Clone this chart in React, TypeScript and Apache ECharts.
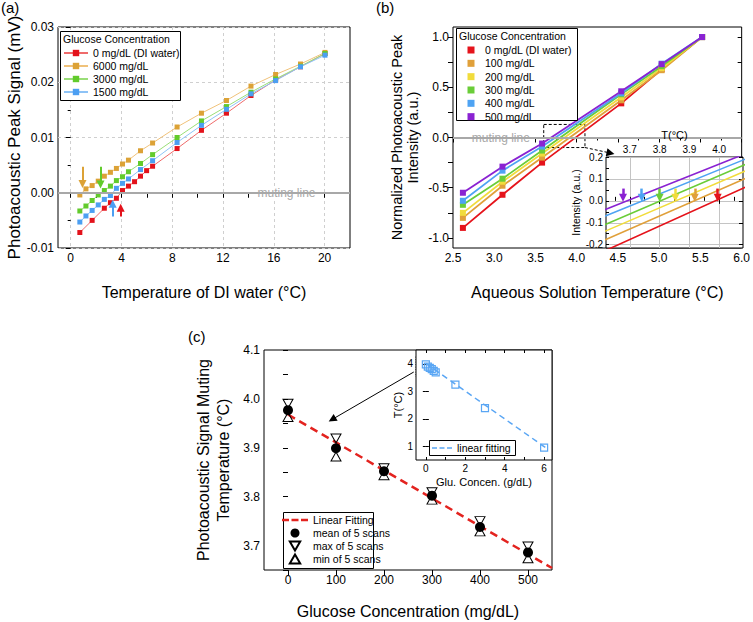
import React, { useEffect, useRef } from 'react';
import * as echarts from 'echarts';

const FONT = '"Liberation Sans", Arial, Helvetica, sans-serif';

// ---------------- Panel (a) ----------------
const aSeriesKeys = ['a0', 'a1', 'a2', 'a3'];
const aSeriesNames = ['0 mg/dL (DI water)', '6000 mg/dL', '3000 mg/dL', '1500 mg/dL'];
const aTempRed = [0.72, 1.69, 2.65, 3.13, 3.6, 4.08, 4.55, 5.03, 5.5, 5.98, 6.45, 8.38, 10.3, 12.27, 14.2, 16.14, 18.1, 20.03];
const aSignalRed = [-0.0072, -0.005, -0.0028, -0.0018, -0.001, 0.0004, 0.0012, 0.002, 0.003, 0.004, 0.0048, 0.008, 0.0113, 0.0144, 0.0176, 0.0204, 0.0228, 0.0252];
const aTempOthers = [0.72, 1.2, 1.69, 2.17, 2.65, 3.13, 3.6, 4.08, 4.55, 5.5, 6.45, 8.38, 10.3, 12.27, 14.2, 16.14, 18.1, 20.03];
const aSignal6000 = [-0.0004, 0.0007, 0.0013, 0.0021, 0.003, 0.0037, 0.0044, 0.0052, 0.0059, 0.0076, 0.009, 0.0119, 0.0144, 0.0167, 0.0193, 0.0214, 0.0233, 0.0254];
const aSignal3000 = [-0.0033, -0.0024, -0.0014, -0.0004, 0.0004, 0.0012, 0.0022, 0.0029, 0.0038, 0.0053, 0.0069, 0.01, 0.013, 0.0156, 0.0182, 0.0206, 0.0229, 0.0252];
const aSignal1500 = [-0.0053, -0.0042, -0.0032, -0.0022, -0.0012, -0.0005, 0.0008, 0.0017, 0.0025, 0.0042, 0.0058, 0.0091, 0.0122, 0.0151, 0.0179, 0.0203, 0.0228, 0.0249];
const aXLabels = [0, 4, 8, 12, 16, 20];
const aXTicks = [0, 2, 4, 6, 8, 10, 12, 14, 16, 18, 20];
const aArrowTemp = [3.94, 0.93, 2.35, 3.31];
const aArrowFrom = [-0.0043, 0.0047, 0.0047, -0.0043];
const aArrowTo = [-0.0027, 0.0016, 0.0015, -0.002];

// ---------------- Panel (b) ----------------
const bSeriesKeys = ['b0', 'b1', 'b2', 'b3', 'b4', 'b5'];
const bSeriesNames = ['0 mg/dL (DI water)', '100 mg/dL', '200 mg/dL', '300 mg/dL', '400 mg/dL', '500 mg/dL'];
const bTemp = [2.62, 3.1, 3.58, 4.54, 5.03, 5.52];
const bInt0 = [-0.9, -0.57, -0.25, 0.34, 0.68, 1.0];
const bInt100 = [-0.8, -0.48, -0.2, 0.37, 0.67, 1.0];
const bInt200 = [-0.75, -0.44, -0.16, 0.4, 0.69, 1.0];
const bInt300 = [-0.67, -0.41, -0.13, 0.43, 0.71, 1.0];
const bInt400 = [-0.63, -0.33, -0.09, 0.44, 0.735, 1.0];
const bInt500 = [-0.55, -0.29, -0.06, 0.46, 0.73, 1.0];
const bYLabels = [-1, -0.5, 0, 0.5, 1];
const bYTicks = [-1, -0.75, -0.5, -0.25, 0, 0.25, 0.5, 0.75, 1];
const bInsetXLabels = [3.7, 3.8, 3.9, 4.0];
const bInsetXTicks = [3.65, 3.7, 3.75, 3.8, 3.85, 3.9, 3.95, 4.0, 4.05];
const bInsetYLabels = [-0.2, -0.1, 0, 0.1, 0.2];
const bInsetYTicks = [-0.2, -0.15, -0.1, -0.05, 0, 0.05, 0.1, 0.15, 0.2];
const bMutingTemp = [3.995, 3.918, 3.853, 3.8, 3.74, 3.677];
const bArrowFrom = 0.056;
const bArrowTo = 0.014;
const bZoomBox = [[3.6, 0.13], [4.1, -0.1]];
const bPointer = [[4.1, -0.1], [4.41, -0.155]];

// ---------------- Panel (c) ----------------
const cConc = [0, 100, 200, 300, 400, 500];
const cMean = [3.977, 3.899, 3.852, 3.802, 3.738, 3.686];
const cMax = [3.99, 3.919, 3.858, 3.809, 3.75, 3.698];
const cMin = [3.963, 3.882, 3.844, 3.794, 3.729, 3.674];
const cFitConc = [0, 550];
const cFitTemp = [3.968, 3.654];
const cYLabels = [3.7, 3.8, 3.9, 4.0, 4.1];
const cYTicks = [3.65, 3.7, 3.75, 3.8, 3.85, 3.9, 3.95, 4.0, 4.05, 4.1];
const cPointer = [[262, 4.055], [92, 3.958]];
const ciConc = [0, 0.1, 0.2, 0.3, 0.4, 0.5, 1.5, 3.0, 6.0];
const ciTemp = [3.977, 3.899, 3.852, 3.802, 3.738, 3.686, 3.24, 2.39, 0.95];
const ciFitConc = [0, 6.15];
const ciFitTemp = [4.01, 0.91];
const ciXLabels = [0, 2, 4, 6];
const ciXTicks = [0, 1, 2, 3, 4, 5, 6];
const ciYLabels = [1, 2, 3, 4];
const ciZoomBox = [[-0.5, 4.26], [0.65, 3.52]];

const LABELS: Record<string, string> = {
  'c-fit': 'Linear Fitting',
  'c-mean': 'mean of 5 scans',
  'c-max': 'max of 5 scans',
  'c-min': 'min of 5 scans',
  'ci-fit': 'linear fitting',
};
aSeriesKeys.forEach((k, i) => (LABELS[k] = aSeriesNames[i]));
bSeriesKeys.forEach((k, i) => (LABELS[k] = bSeriesNames[i]));

const A_MARKER = ['#e3121b', '#dca236', '#62cb2c', '#4c9ff2'];
const A_LINE = ['#ef6b6b', '#f0c27a', '#9ade78', '#8ec3f6'];
const B_COLORS = ['#e5131b', '#e0a03a', '#f1dc3c', '#6acd38', '#4ea3f3', '#8a22d2'];
const MUTE = '#a8a8a8';
const CI_BLUE = '#5aa6f4';
const FIT_RED = '#e3231f';
const DOWN_TRI = 'path://M0,0L10,0L5,8.66Z';
const UP_TRI = 'path://M5,0L10,8.66L0,8.66Z';
const SQUARE_ICON = 'path://M0,0M18,7M5.5,0L12.5,0L12.5,7L5.5,7Z';
const DASH_ICON_C = 'path://M0,0h7v2.5h-7z M9.5,0h7v2.5h-7z M19,0h7v2.5h-7z';
const DASH_ICON_CI = 'path://M0,0h5v1.5h-5z M7.5,0h5v1.5h-5z M15,0h5v1.5h-5z';

const zip = (xs: number[], ys: number[]) => xs.map((x, i) => [x, ys[i]]);

function axis(extra: any) {
  const base: any = {
    type: 'value',
    axisLine: { show: false },
    splitLine: { show: false },
    axisTick: { show: true, length: 5, inside: false, lineStyle: { color: '#000', width: 1 } },
    axisLabel: { show: true, color: '#000', fontSize: 12, fontFamily: FONT, margin: 4 },
    nameTextStyle: { color: '#000', fontSize: 16, fontFamily: FONT },
  };
  Object.keys(extra).forEach((k) => {
    const v = extra[k];
    if (base[k] && typeof base[k] === 'object' && v && typeof v === 'object' && !Array.isArray(v)) {
      base[k] = { ...base[k], ...v };
    } else base[k] = v;
  });
  return base;
}

const fx1 = (v: number) => v.toFixed(1);
const fx2 = (v: number) => v.toFixed(2);

function arrow(color: string, x: number, y1: number, y2: number, width = 2, size = 8) {
  return {
    silent: true,
    symbol: ['none', 'triangle'],
    symbolSize: size,
    label: { show: false },
    emphasis: { disabled: true },
    lineStyle: { color, width, type: 'solid', opacity: 1 },
    data: [[{ coord: [x, y1] }, { coord: [x, y2] }]],
  };
}

function buildOption(): any {
  const frame = { show: true, borderColor: '#000', borderWidth: 1, backgroundColor: 'rgba(0,0,0,0)' };
  const grid = [
    { left: 58, top: 27, width: 292, height: 221, ...frame },
    { left: 453, top: 27, width: 290, height: 221, ...frame },
    { left: 606, top: 157, width: 137, height: 91, ...frame, backgroundColor: '#fff', z: 10 },
    { left: 264, top: 350, width: 288, height: 220, ...frame },
    { left: 416, top: 350, width: 136, height: 110, ...frame, backgroundColor: '#fff', z: 10 },
  ];

  const xAxis = [
    axis({
      gridIndex: 0, min: -1, max: 22,
      axisLabel: { customValues: aXLabels },
      axisTick: { customValues: aXTicks },
      name: 'Temperature of DI water (°C)', nameLocation: 'middle', nameGap: 36,
    }),
    axis({
      gridIndex: 0, position: 'top', min: -1, max: 22,
      axisLabel: { show: false },
      axisTick: { show: false, customValues: aXLabels },
      splitLine: { show: true, lineStyle: { color: '#cfcfcf', type: [3, 3], width: 1 } },
    }),
    axis({
      gridIndex: 1, min: 2.5, max: 6, interval: 0.5,
      axisLabel: { formatter: fx1 },
      minorTick: { show: true, splitNumber: 2, length: 3, lineStyle: { color: '#000' } },
      name: 'Aqueous Solution Temperature (°C)', nameLocation: 'middle', nameGap: 36,
    }),
    axis({
      gridIndex: 1, position: 'top', min: 2.5, max: 6, interval: 0.5,
      axisLabel: { show: false },
      axisTick: { inside: true, length: 4 },
      minorTick: { show: true, splitNumber: 2, length: 2, lineStyle: { color: '#000' } },
    }),
    axis({
      gridIndex: 2, position: 'top', min: 3.62, max: 4.08, z: 11,
      axisLabel: { customValues: bInsetXLabels, formatter: fx1, fontSize: 10, margin: 3 },
      axisTick: { customValues: bInsetXLabels, inside: true, length: 3 },
      splitLine: { show: true, lineStyle: { color: '#c4c4c4', width: 1, type: 'solid' } },
      name: 'T(°C)', nameLocation: 'middle', nameGap: 17,
      nameTextStyle: { fontSize: 11 },
    }),
    axis({
      gridIndex: 2, position: 'bottom', min: 3.62, max: 4.08, z: 11,
      axisLabel: { show: false },
      axisTick: { customValues: bInsetXTicks, inside: true, length: 4 },
    }),
    axis({
      gridIndex: 3, min: -50, max: 550,
      axisLabel: { customValues: cConc },
      axisTick: { customValues: cConc },
      name: 'Glucose Concentration (mg/dL)', nameLocation: 'middle', nameGap: 33,
    }),
    axis({
      gridIndex: 4, min: -0.5, max: 6.4, z: 11,
      axisLabel: { customValues: ciXLabels, fontSize: 10, margin: 3 },
      axisTick: { customValues: ciXTicks, inside: true, length: 3 },
      name: 'Glu. Concen. (g/dL)', nameLocation: 'middle', nameGap: 16,
      nameTextStyle: { fontSize: 11 },
    }),
    axis({
      gridIndex: 4, position: 'top', min: -0.5, max: 6.4, z: 11,
      axisLabel: { show: false },
      axisTick: { customValues: ciXTicks, inside: true, length: 3 },
    }),
  ];

  const yAxis = [
    axis({
      gridIndex: 0, min: -0.01, max: 0.03, interval: 0.01,
      axisLabel: { formatter: fx2 },
      minorTick: { show: true, splitNumber: 2, length: 3, lineStyle: { color: '#000' } },
      splitLine: { show: true, lineStyle: { color: '#cfcfcf', type: [3, 3], width: 1 } },
      name: 'Photoacoustic Peak Signal (mV)', nameLocation: 'middle', nameGap: 33,
      nameTextStyle: { fontSize: 17 },
    }),
    axis({
      gridIndex: 1, min: -1.1, max: 1.1,
      axisLabel: { customValues: bYLabels, formatter: fx1 },
      axisTick: { customValues: bYTicks },
      name: 'Normalized Photoacoustic Peak\nIntensity (a.u.)', nameLocation: 'middle', nameGap: 32,
      nameTextStyle: { fontSize: 14.5, lineHeight: 16 },
    }),
    axis({
      gridIndex: 1, position: 'right', min: -1.1, max: 1.1,
      axisLabel: { show: false },
      axisTick: { customValues: bYTicks, inside: true, length: 4 },
    }),
    axis({
      gridIndex: 2, min: -0.215, max: 0.2, z: 11,
      axisLabel: { customValues: bInsetYLabels, formatter: fx1, fontSize: 10, margin: 3 },
      axisTick: { customValues: bInsetYTicks, inside: true, length: 3 },
      name: 'Intensity (a.u.)', nameLocation: 'middle', nameGap: 23,
      nameTextStyle: { fontSize: 10.5 },
    }),
    axis({
      gridIndex: 2, position: 'right', min: -0.215, max: 0.2, z: 11,
      axisLabel: { show: false },
      axisTick: { customValues: bInsetYLabels, inside: true, length: 4 },
      splitLine: { show: true, lineStyle: { color: '#c4c4c4', width: 1, type: 'solid' } },
    }),
    axis({
      gridIndex: 3, min: 3.65, max: 4.1,
      axisLabel: { customValues: cYLabels, formatter: fx1 },
      axisTick: { customValues: cYTicks },
      name: 'Photoacoustic Signal Muting\nTemperature (°C)', nameLocation: 'middle', nameGap: 31,
      nameTextStyle: { fontSize: 16, lineHeight: 20 },
    }),
    axis({
      gridIndex: 4, min: 0.5, max: 4.5, z: 11,
      axisLabel: { customValues: ciYLabels, fontSize: 10, margin: 3 },
      axisTick: { customValues: ciYLabels, inside: true, length: 3 },
      name: 'T(°C)', nameLocation: 'middle', nameGap: 11,
      nameTextStyle: { fontSize: 11 },
    }),
    axis({
      gridIndex: 4, position: 'right', min: 0.5, max: 4.5, z: 11,
      axisLabel: { show: false },
      axisTick: { customValues: ciYLabels, inside: true, length: 3 },
    }),
  ];

  const aData = [zip(aTempRed, aSignalRed), zip(aTempOthers, aSignal6000), zip(aTempOthers, aSignal3000), zip(aTempOthers, aSignal1500)];
  const bData = [bInt0, bInt100, bInt200, bInt300, bInt400, bInt500].map((ys) => zip(bTemp, ys));

  const series: any[] = [];
  aSeriesKeys.forEach((k, i) => {
    series.push({
      type: 'line', name: k, xAxisIndex: 0, yAxisIndex: 0, data: aData[i],
      symbol: 'rect', symbolSize: 5, z: 3,
      itemStyle: { color: A_MARKER[i] },
      lineStyle: { color: A_LINE[i], width: 1 },
      markLine: arrow(A_MARKER[i], aArrowTemp[i], aArrowFrom[i], aArrowTo[i], 2, 8),
    });
  });
  bSeriesKeys.forEach((k, i) => {
    series.push({
      type: 'line', name: k, xAxisIndex: 2, yAxisIndex: 1, data: bData[i],
      symbol: 'rect', symbolSize: 6, z: 3,
      itemStyle: { color: B_COLORS[i] },
      lineStyle: { color: B_COLORS[i], width: 1.8 },
    });
  });
  bSeriesKeys.forEach((k, i) => {
    series.push({
      type: 'line', name: 'i' + k, xAxisIndex: 4, yAxisIndex: 3, data: bData[i],
      symbol: 'none', showSymbol: false, z: 12,
      itemStyle: { color: B_COLORS[i] },
      lineStyle: { color: B_COLORS[i], width: 1.6 },
      markLine: { ...arrow(B_COLORS[i], bMutingTemp[i], bArrowFrom, bArrowTo, 2.5, 8), z: 13 },
    });
  });
  series.push({
    type: 'line', name: 'mute-a', xAxisIndex: 0, yAxisIndex: 0, data: [], z: 1,
    markLine: { silent: true, symbol: 'none', label: { show: false }, lineStyle: { color: MUTE, width: 2, type: 'solid' }, data: [{ yAxis: 0 }] },
  });
  series.push({
    type: 'line', name: 'mute-b', xAxisIndex: 2, yAxisIndex: 1, data: [], z: 1,
    markLine: { silent: true, symbol: 'none', label: { show: false }, lineStyle: { color: MUTE, width: 2, type: 'solid' }, data: [{ yAxis: 0 }] },
  });
  series.push({
    type: 'line', name: 'ptr-b', xAxisIndex: 2, yAxisIndex: 1, data: [], z: 4,
    markArea: {
      silent: true,
      itemStyle: { color: 'rgba(0,0,0,0)', borderColor: '#000', borderWidth: 1, borderType: [3, 2] },
      data: [[{ coord: bZoomBox[0] }, { coord: bZoomBox[1] }]],
    },
    markLine: {
      silent: true, symbol: ['none', 'triangle'], symbolSize: 8, label: { show: false },
      lineStyle: { color: '#000', width: 1, type: [3, 2] },
      data: [[{ coord: bPointer[0] }, { coord: bPointer[1] }]],
    },
  });
  series.push({
    type: 'line', name: 'c-fit', xAxisIndex: 6, yAxisIndex: 5, data: zip(cFitConc, cFitTemp),
    symbol: 'none', z: 2,
    itemStyle: { color: FIT_RED },
    lineStyle: { color: FIT_RED, width: 2.5, type: [8, 5] },
    markLine: {
      silent: true, symbol: ['none', 'triangle'], symbolSize: 8, label: { show: false },
      lineStyle: { color: '#000', width: 1, type: 'solid' },
      data: [[{ coord: cPointer[0] }, { coord: cPointer[1] }]],
    },
  });
  series.push({
    type: 'scatter', name: 'c-max', xAxisIndex: 6, yAxisIndex: 5, data: zip(cConc, cMax),
    symbol: DOWN_TRI, symbolSize: [10, 9], z: 3,
    itemStyle: { color: 'rgba(255,255,255,0)', borderColor: '#000', borderWidth: 1, opacity: 1 },
  });
  series.push({
    type: 'scatter', name: 'c-min', xAxisIndex: 6, yAxisIndex: 5, data: zip(cConc, cMin),
    symbol: UP_TRI, symbolSize: [10, 9], z: 3,
    itemStyle: { color: 'rgba(255,255,255,0)', borderColor: '#000', borderWidth: 1, opacity: 1 },
  });
  series.push({
    type: 'scatter', name: 'c-mean', xAxisIndex: 6, yAxisIndex: 5, data: zip(cConc, cMean),
    symbol: 'circle', symbolSize: 10, z: 4,
    itemStyle: { color: '#000', opacity: 1 },
  });
  series.push({
    type: 'line', name: 'ci-fit', xAxisIndex: 7, yAxisIndex: 6, data: zip(ciFitConc, ciFitTemp),
    symbol: 'none', z: 12,
    itemStyle: { color: CI_BLUE },
    lineStyle: { color: CI_BLUE, width: 1.5, type: [6, 4] },
  });
  series.push({
    type: 'scatter', name: 'ci-pts', xAxisIndex: 7, yAxisIndex: 6, data: zip(ciConc, ciTemp),
    symbol: 'rect', symbolSize: 7, z: 12,
    itemStyle: { color: 'rgba(255,255,255,0)', borderColor: CI_BLUE, borderWidth: 1.2, opacity: 1 },
    markArea: {
      silent: true,
      itemStyle: { color: 'rgba(0,0,0,0)', borderColor: '#000', borderWidth: 1, borderType: [1, 1.5] },
      data: [[{ coord: ciZoomBox[0] }, { coord: ciZoomBox[1] }]],
    },
  });

  const legendText = { fontSize: 10.5, fontFamily: FONT, color: '#000', lineHeight: 12 };
  const legendBase = {
    orient: 'vertical', padding: 0, selectedMode: false, formatter: (n: string) => LABELS[n] || n,
    textStyle: legendText, z: 6,
  };
  const legend = [
    { ...legendBase, data: aSeriesKeys, left: 63, top: 47, itemWidth: 24, itemHeight: 8, itemGap: 1 },
    { ...legendBase, data: bSeriesKeys.map((k) => ({ name: k, icon: SQUARE_ICON })), left: 462, top: 44, itemWidth: 18, itemHeight: 7, itemGap: 1.33 },
    {
      ...legendBase,
      data: [
        { name: 'c-fit', icon: DASH_ICON_C, itemStyle: { color: FIT_RED, borderWidth: 0 } },
        { name: 'c-mean' },
        { name: 'c-max', icon: DOWN_TRI },
        { name: 'c-min', icon: UP_TRI },
      ],
      left: 282, top: 514, itemWidth: 26, itemHeight: 9, itemGap: 1,
    },
    {
      ...legendBase,
      data: [{ name: 'ci-fit', icon: DASH_ICON_CI, itemStyle: { color: CI_BLUE, borderWidth: 0 } }],
      left: 432, top: 442, itemWidth: 20, itemHeight: 10, itemGap: 0, z: 14,
    },
  ];

  return {
    animation: false,
    backgroundColor: '#fff',
    textStyle: { fontFamily: FONT },
    grid, xAxis, yAxis, series, legend,
  };
}

export default function App() {
  const ref = useRef<HTMLDivElement>(null);
  useEffect(() => {
    document.body.style.margin = '0';
    const el = ref.current;
    if (!el) return;
    const chart = echarts.init(el, undefined, { renderer: 'svg' });
    chart.setOption(buildOption());

    const pa = chart.convertToPixel({ seriesIndex: 0 }, [17.0, 0]) as number[];
    const pb = chart.convertToPixel({ seriesIndex: 4 }, [3.08, 0]) as number[];
    const txt = (id: string, x: number, y: number, text: string, size: number, extra: any = {}, z = 20) => ({
      type: 'text', id, x, y, z,
      style: { text, fill: '#000', font: `${size}px ${FONT}`, align: 'left', verticalAlign: 'top', ...extra },
    });
    const box = (id: string, x: number, y: number, w: number, h: number, z: number) => ({
      type: 'rect', id, z, shape: { x, y, width: w, height: h },
      style: { fill: '#fff', stroke: '#000', lineWidth: 1 },
    });
    const elements: any[] = [
      txt('la', 1, 0, '(a)', 15),
      txt('lb', 376, 0, '(b)', 15),
      txt('lc', 188, 329, '(c)', 15),
      box('boxa', 60.5, 31.5, 120, 69, 5),
      box('boxb', 456.5, 28.5, 121, 92, 5),
      box('boxc', 283.5, 512.5, 90, 56, 5),
      box('boxci', 429.5, 440.5, 86, 15, 13),
      txt('ta', 63, 33, 'Glucose Concentration', 10.5, {}, 7),
      txt('tb', 459, 30, 'Glucose Concentration', 10.5, {}, 7),
      txt('ma', pa[0], pa[1], 'muting line', 12, { fill: MUTE, align: 'center', verticalAlign: 'middle', backgroundColor: '#fff', padding: [0, 2] }, 2),
      txt('mb', pb[0], pb[1], 'muting line', 12, { fill: MUTE, align: 'center', verticalAlign: 'middle', backgroundColor: '#fff', padding: [0, 2] }, 2),
    ];
    chart.setOption({ graphic: { elements } });
    return () => chart.dispose();
  }, []);
  return <div ref={ref} style={{ width: 753, height: 622, background: '#fff' }} />;
}
